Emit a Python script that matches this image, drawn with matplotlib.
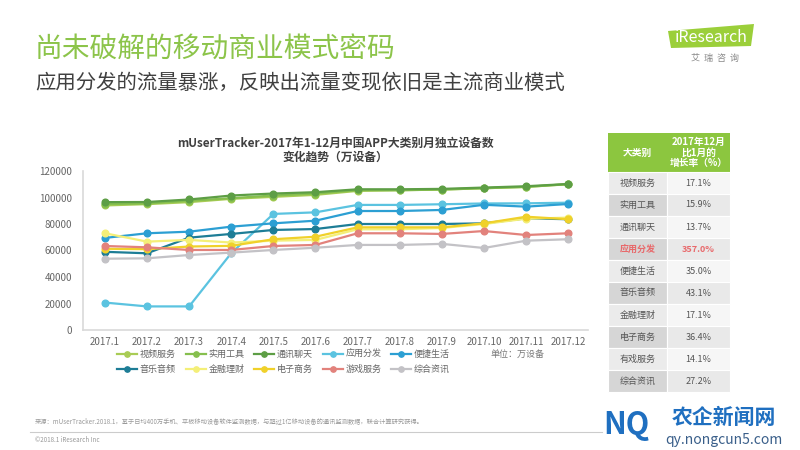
import numpy as np
import matplotlib.pyplot as plt
from matplotlib.patches import Polygon, Rectangle
from matplotlib.lines import Line2D

plt.rcParams['font.family'] = ['Noto Sans CJK SC', 'DejaVu Sans']

months = ['2017.1', '2017.2', '2017.3', '2017.4', '2017.5', '2017.6',
          '2017.7', '2017.8', '2017.9', '2017.10', '2017.11', '2017.12']

series_names = ['视频服务', '实用工具', '通讯聊天', '应用分发', '便捷生活',
                '音乐音频', '金融理财', '电子商务', '游戏服务', '综合资讯']

video = [94000, 95000, 96500, 99000, 100500, 102000, 105000, 105500, 106000, 107000, 108000, 110000]
tools = [95000, 95500, 97500, 99500, 101500, 103000, 105500, 105500, 106000, 107000, 108000, 110100]
chat = [96500, 96600, 98500, 101500, 103000, 104000, 106200, 106200, 106500, 107500, 108500, 110200]
appstore = [20700, 17800, 17800, 58000, 87600, 88800, 94400, 94400, 94900, 95500, 95600, 96100]
life = [69500, 73000, 74200, 78000, 80500, 82500, 89800, 89800, 90600, 94500, 93100, 95100]
music = [59000, 57900, 69700, 72500, 75500, 76200, 80000, 80000, 80000, 80500, 84300, 83600]
finance = [73000, 66700, 68000, 66000, 67400, 68000, 76000, 76000, 77000, 80000, 84000, 84800]
ecommerce = [61300, 61000, 63000, 63500, 68500, 70400, 77500, 77500, 77500, 80500, 85500, 83600]
games = [63400, 62400, 60400, 60400, 63400, 64200, 73000, 73000, 72500, 74700, 71700, 73000]
news = [53800, 54100, 56600, 58400, 60400, 62100, 64200, 64200, 65000, 61900, 67400, 68500]

table_names = ['视频服务', '实用工具', '通讯聊天', '应用分发', '便捷生活',
               '音乐音频', '金融理财', '电子商务', '有戏服务', '综合资讯']
table_growth = ['17.1%', '15.9%', '13.7%', '357.0%', '35.0%',
                '43.1%', '17.1%', '36.4%', '14.1%', '27.2%']

all_series = [video, tools, chat, appstore, life, music, finance, ecommerce, games, news]
colors = ['#a9cc55', '#86bf4e', '#5d9e45', '#5bc3e0', '#2c9fd3',
          '#1d7d96', '#f4ef78', '#f0d12a', '#e2827c', '#c3c2c6']

W, H = 800, 450
fig = plt.figure(figsize=(8, 4.5), dpi=100)
fig.patch.set_facecolor('white')


def fx(x):
    return x / W


def fy(y):
    return 1 - y / H


# header
fig.text(fx(35), fy(50), '尚未破解的移动商业模式密码', fontsize=20, color='#8cc44a',
         va='center', ha='left')
fig.text(fx(35), fy(83), '应用分发的流量暴涨，反映出流量变现依旧是主流商业模式', fontsize=14.7,
         color='#404040', va='center', ha='left')

# logo
logo = Polygon([(fx(668), fy(31)), (fx(754), fy(24)), (fx(751), fy(46)), (fx(671), fy(48))],
               closed=True, facecolor='#9bcf3a', edgecolor='none', transform=fig.transFigure)
fig.patches.append(logo)
fig.text(fx(711), fy(37), 'iResearch', fontsize=11.5, color='white', ha='center', va='center')
fig.text(fx(715), fy(58), '艾  瑞  咨  询', fontsize=6.5, color='#888888', ha='center', va='center')

# chart
ax = fig.add_axes([fx(83), fy(330), fx(588) - fx(83), fy(171) - fy(330)])
x = np.arange(len(months))
handles = []
for name, vals, c in zip(series_names, all_series, colors):
    h, = ax.plot(x, vals, color=c, lw=1.6, marker='o', ms=4.8, label=name)
    handles.append(h)

ax.set_xlim(-0.52, 11.47)
ax.set_ylim(0, 120000)
ax.set_yticks(np.arange(0, 120001, 20000))
ax.set_xticks(x)
ax.set_xticklabels(months)
ax.tick_params(axis='both', length=0, labelsize=7, colors='#666666')
ax.tick_params(axis='x', pad=5)
ax.tick_params(axis='y', pad=8)
for s in ['top', 'right']:
    ax.spines[s].set_visible(False)
for s in ['left', 'bottom']:
    ax.spines[s].set_color('#d9d9d9')
    ax.spines[s].set_linewidth(1.2)

fig.text(fx(335), fy(143), 'mUserTracker-2017年1-12月中国APP大类别月独立设备数',
         fontsize=8.5, fontweight='bold', color='#404040', ha='center', va='center')
fig.text(fx(335), fy(157), '变化趋势（万设备）', fontsize=8.5, fontweight='bold',
         color='#404040', ha='center', va='center')

# legend, row-wise order
order = []
for i in range(5):
    order += [i, i + 5]
leg = fig.legend([handles[i] for i in order], [series_names[i] for i in order],
                 ncol=5, loc='center left', bbox_to_anchor=(fx(112), fy(362)),
                 frameon=False, fontsize=6.5, handlelength=2.2, handletextpad=0.3,
                 columnspacing=1.1, labelspacing=0.6, markerscale=0.8,
                 borderpad=0.1)
for t in leg.get_texts():
    t.set_color('#666666')
fig.text(fx(490), fy(354), '单位：万设备', fontsize=6.5, color='#777777', ha='left', va='center')

# table
tx0, tx1, tx2 = 608, 667, 730
hy0, hy1 = 133, 172
rh = 22
fig.patches.append(Rectangle((fx(tx0), fy(hy1)), fx(tx2) - fx(tx0), fy(hy0) - fy(hy1),
                             facecolor='#8cc63f', edgecolor='none', transform=fig.transFigure))
fig.text(fx((tx0 + tx1) / 2), fy((hy0 + hy1) / 2), '大类别', fontsize=7, fontweight='bold',
         color='white', ha='center', va='center')
fig.text(fx((tx1 + tx2) / 2), fy((hy0 + hy1) / 2), '2017年12月\n比1月的\n增长率（%）',
         fontsize=7, fontweight='bold', color='white', ha='center', va='center', linespacing=1.1)
for i, (nm, g) in enumerate(zip(table_names, table_growth)):
    y0 = hy1 + i * rh
    dark = i % 2 == 1
    c1 = '#d6d6d6' if dark else '#ebebeb'
    c2 = '#e9e9e9' if dark else '#f6f6f6'
    fig.patches.append(Rectangle((fx(tx0), fy(y0 + rh)), fx(tx1) - fx(tx0), rh / H,
                                 facecolor=c1, edgecolor='white', lw=0.8, transform=fig.transFigure))
    fig.patches.append(Rectangle((fx(tx1), fy(y0 + rh)), fx(tx2) - fx(tx1), rh / H,
                                 facecolor=c2, edgecolor='white', lw=0.8, transform=fig.transFigure))
    tc = '#e8696b' if nm == '应用分发' else '#555555'
    fw = 'bold' if nm == '应用分发' else 'normal'
    fig.text(fx((tx0 + tx1) / 2), fy(y0 + rh / 2), nm, fontsize=6.5, color=tc,
             ha='center', va='center', fontweight=fw)
    fig.text(fx((tx1 + tx2) / 2), fy(y0 + rh / 2), g, fontsize=6.5, color=tc,
             ha='center', va='center', fontweight=fw)

# footer
fig.text(fx(35), fy(421), '来源：mUserTracker.2018.1，基于日均400万手机、平板移动设备软件监测数据，'
         '与超过1亿移动设备的通讯监测数据，联合计算研究获得。',
         fontsize=4.5, color='#999999', ha='left', va='center')
fig.add_artist(Line2D([fx(30), fx(602)], [fy(432), fy(432)], color='#cccccc', lw=0.8,
                      transform=fig.transFigure))
fig.text(fx(35), fy(440), '©2018.1 iResearch Inc', fontsize=4.5, color='#999999',
         ha='left', va='center')

# watermark
fig.text(fx(626), fy(425), 'NQ', fontsize=22, fontweight='bold', color='#1f6fc0',
         ha='center', va='center')
fig.text(fx(724), fy(417), '农企新闻网', fontsize=15, fontweight='bold', color='#1f6fc0',
         ha='center', va='center')
fig.text(fx(724), fy(440), 'qy.nongcun5.com', fontsize=10, color='#3a5f8a',
         ha='center', va='center')

fig.savefig('out.png', dpi=100, facecolor='white')
